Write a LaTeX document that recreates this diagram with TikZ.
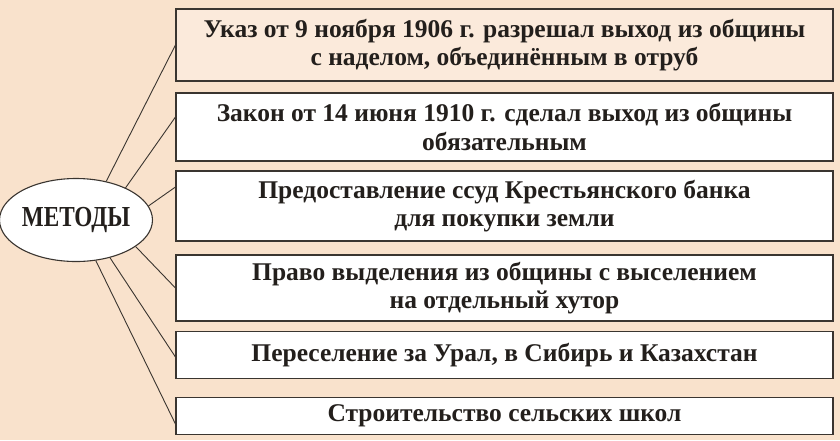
\documentclass[tikz,border=0pt]{standalone}
\usepackage{fontspec}
\setmainfont{Liberation Serif}
\usetikzlibrary{shapes.geometric}

\definecolor{fon}{HTML}{F9E2CC}
\definecolor{svetlo}{HTML}{FBEADB}
\definecolor{ramka}{HTML}{3A3530}
\definecolor{tekst}{HTML}{231F1C}

\tikzset{
  punkt/.style={draw=ramka, line width=1.1pt, fill=white, minimum width=657pt,
    inner sep=0pt, align=center, text=tekst, font=\fontsize{25.5}{28.5}\selectfont\bfseries},
  luch/.style={draw=ramka, line width=0.9pt}
}

\begin{document}
\begin{tikzpicture}[x=1pt, y=-1pt]
  \fill[fon] (0,0) rectangle (840,440);
  \useasboundingbox (0,0) rectangle (840,440);
  \node[ellipse, draw=ramka, line width=1.1pt, fill=white, minimum width=134pt, minimum height=83pt, inner sep=0pt, text=tekst, font=\fontsize{29}{32}\selectfont\bfseries\addfontfeatures{FakeStretch=0.8}] (M) at (76,220) {МЕТОДЫ};
  \node[punkt, fill=svetlo, minimum height=72pt] (B1) at (504.5,45) {Указ от 9 ноября 1906 г. разрешал выход из общины\\с наделом, объединённым в отруб};
  \node[punkt, minimum height=68pt] (B2) at (504.5,127) {Закон от 14 июня 1910 г. сделал выход из общины\\обязательным};
  \node[punkt, minimum height=70pt] (B3) at (504.5,206) {Предоставление ссуд Крестьянского банка\\для покупки земли};
  \node[punkt, minimum height=66pt] (B4) at (504.5,288) {Право выделения из общины с выселением\\на отдельный хутор};
  \node[punkt, minimum height=47pt] (B5) at (504.5,355) {Переселение за Урал, в Сибирь и Казахстан};
  \node[punkt, minimum height=37pt] (B6) at (504.5,416) {Строительство сельских школ};
  \draw[luch] (M.52) -- (B1.west);
  \draw[luch] (M.33) -- ([yshift=10pt]B2.west);
  \draw[luch] (M.11) -- ([yshift=19pt]B3.west);
  \draw[luch] (M.-24) -- (B4.west);
  \draw[luch] (M.-48) -- ([yshift=-2pt]B5.west);
  \draw[luch] (M.-64) -- ([yshift=-8pt]B6.west);
\end{tikzpicture}
\end{document}
